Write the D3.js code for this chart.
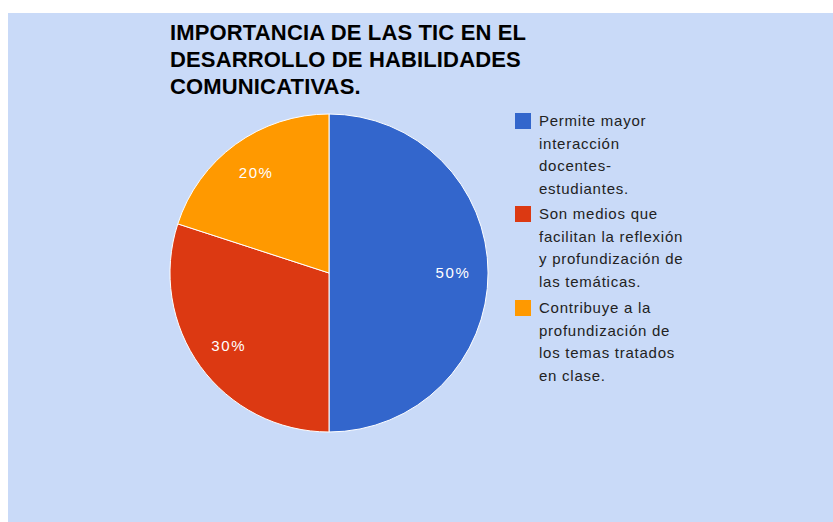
<!DOCTYPE html>
<html lang="es">
<head>
<meta charset="utf-8">
<title>Importancia de las TIC</title>
<script src="https://cdn.jsdelivr.net/npm/d3@7"></script>
<style>
  body { margin: 0; background: #fff; }
  .title { font-family: "Liberation Sans", Arial, sans-serif; font-weight: bold; font-size: 22px; fill: #000; letter-spacing: 0.15px; }
  .legend-text { font-family: "Liberation Sans", Arial, sans-serif; font-size: 15px; fill: #222; letter-spacing: 0.75px; }
  .slice-label { font-family: "Liberation Sans", Arial, sans-serif; font-size: 15px; fill: #fff; text-anchor: middle; letter-spacing: 1.6px; }
</style>
</head>
<body>
<div id="chart"></div>
<script>
var categories = [
  "Permite mayor interacción docentes-estudiantes.",
  "Son medios que facilitan la reflexión y profundización de las temáticas.",
  "Contribuye a la profundización de los temas tratados en clase."
];
var legendLines = [
  ["Permite mayor", "interacción", "docentes-", "estudiantes."],
  ["Son medios que", "facilitan la reflexión", "y profundización de", "las temáticas."],
  ["Contribuye a la", "profundización de", "los temas tratados", "en clase."]
];
var values = [50, 30, 20];
var colors = ["#3366cc", "#dc3912", "#ff9900"];
var titleLines = ["IMPORTANCIA DE LAS TIC EN EL", "DESARROLLO DE HABILIDADES", "COMUNICATIVAS."];

var width = 833, height = 522;

var svg = d3.select("#chart").append("svg")
    .attr("width", width)
    .attr("height", height);

svg.append("rect")
    .attr("x", 8).attr("y", 13)
    .attr("width", width - 8).attr("height", height - 13)
    .attr("fill", "#c9daf8");

// title
svg.append("g").selectAll("text")
    .data(titleLines)
    .enter().append("text")
    .attr("class", "title")
    .attr("x", 170)
    .attr("y", function(d, i) { return 40 + i * 27; })
    .text(function(d) { return d; });

// pie
var cx = 329, cy = 273, r = 159;
var data = categories.map(function(c, i) { return {name: c, value: values[i], color: colors[i]}; });

var pie = d3.pie().sort(null).value(function(d) { return d.value; });
var arc = d3.arc().innerRadius(0).outerRadius(r);
var labelArc = d3.arc().innerRadius(r * 0.78).outerRadius(r * 0.78);

var plt = svg.append("g").attr("transform", "translate(" + cx + "," + cy + ")");

var arcs = pie(data);

plt.selectAll("path")
    .data(arcs)
    .enter().append("path")
    .attr("d", arc)
    .attr("fill", function(d) { return d.data.color; })
    .attr("stroke", "#fff")
    .attr("stroke-width", 1);

plt.selectAll("text")
    .data(arcs)
    .enter().append("text")
    .attr("class", "slice-label")
    .attr("transform", function(d) { return "translate(" + labelArc.centroid(d) + ")"; })
    .attr("dy", "0.36em")
    .text(function(d) { return d.data.value + "%"; });

// legend
var legendY = [113, 206, 300];
var legend = svg.append("g").selectAll("g")
    .data(data)
    .enter().append("g")
    .attr("transform", function(d, i) { return "translate(515," + legendY[i] + ")"; });

legend.append("rect")
    .attr("width", 16).attr("height", 16)
    .attr("fill", function(d) { return d.color; });

legend.each(function(d, i) {
  d3.select(this).selectAll("text")
    .data(legendLines[i])
    .enter().append("text")
    .attr("class", "legend-text")
    .attr("x", 24)
    .attr("y", function(t, j) { return 13 + j * 22.5; })
    .text(function(t) { return t; });
});
</script>
</body>
</html>
